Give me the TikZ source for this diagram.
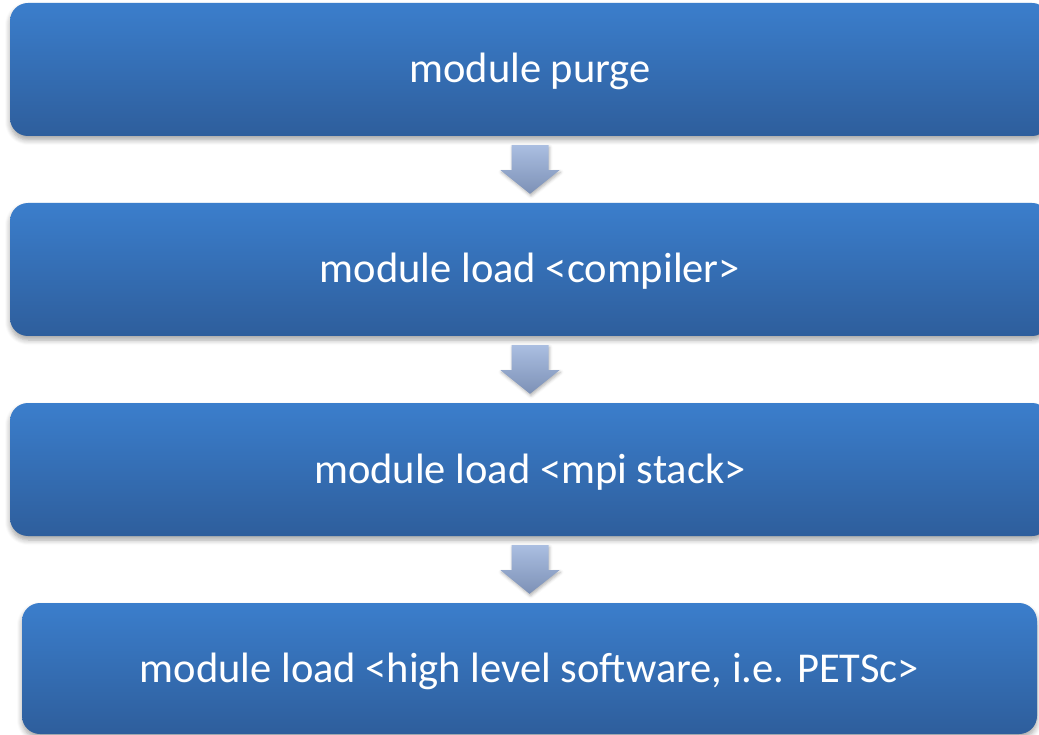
\documentclass[tikz,border=0pt]{standalone}
\usepackage{fontspec}
\setmainfont{Carlito}
\usetikzlibrary{calc,shadows,shadows.blur}
\definecolor{boxtop}{RGB}{59,126,204}
\definecolor{boxbot}{RGB}{46,94,156}
\definecolor{arrtop}{RGB}{170,190,225}
\definecolor{arrbot}{RGB}{125,145,182}
\tikzset{
  stepbox/.style={rectangle, rounded corners=18pt, top color=boxtop, bottom color=boxbot,
    draw=none, text=white, font=\fontsize{42.5}{50}\selectfont,
    text height=34pt, text depth=7pt,
    minimum height=133pt, inner sep=0pt,
    blur shadow={shadow xshift=0pt, shadow yshift=-4pt, shadow blur steps=6, shadow blur radius=5pt, shadow opacity=35}},
  flowarrow/.style={top color=arrtop, bottom color=arrbot, draw=none,
    blur shadow={shadow xshift=1pt, shadow yshift=-2pt, shadow blur steps=4, shadow blur radius=3pt, shadow opacity=30}}
}
\begin{document}
\begin{tikzpicture}[x=1pt,y=-1pt]
\useasboundingbox (0,0) rectangle (1039,735);
\clip (0,0) rectangle (1039,735);
\node[stepbox, minimum width=1040pt] (b1) at (530,69.5) {module purge};
\node[stepbox, minimum width=1040pt] (b2) at (530,269.5) {module load <compiler>};
\node[stepbox, minimum width=1040pt] (b3) at (530,469.5) {module load <mpi stack>};
\node[stepbox, minimum width=1015pt, minimum height=131pt] (b4) at (529.5,668.5) {module load <high level software, i.e. PETSc>};
\foreach \u/\l in {b1/b2,b2/b3,b3/b4}{
  \path[flowarrow]
    ($(\u.south)+(-18.5,9)$) -- ($(\u.south)+(18.5,9)$)
    -- ($(\u.south)+(18.5,34)$) -- ($(\u.south)+(29.5,34)$)
    -- ($(\l.north)+(0,-9)$)
    -- ($(\u.south)+(-29.5,34)$) -- ($(\u.south)+(-18.5,34)$) -- cycle;
}
\end{tikzpicture}
\end{document}
